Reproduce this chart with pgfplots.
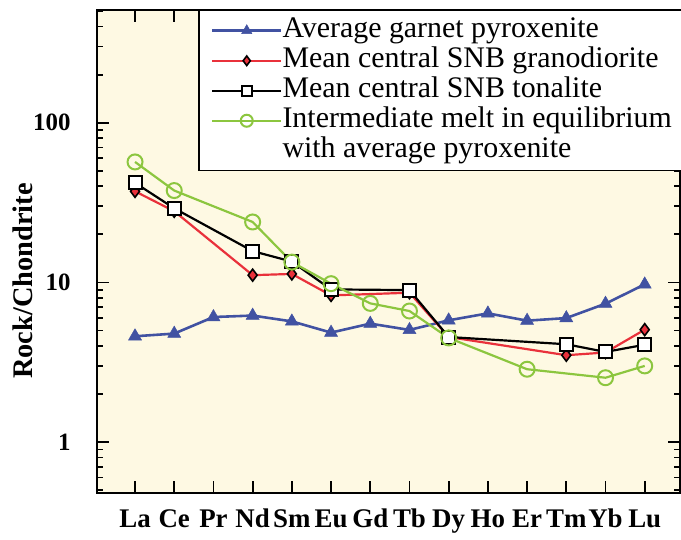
\documentclass[border=0pt]{standalone}
\usepackage{fontspec}
\setmainfont{Liberation Serif}
\usepackage{pgfplots}
\pgfplotsset{compat=1.18}
\usetikzlibrary{calc}
\definecolor{cblue}{HTML}{4152A2}
\definecolor{cred}{HTML}{E9313B}
\definecolor{cgreen}{HTML}{8CC63F}
\definecolor{bg}{HTML}{FEF9E3}
\begin{document}
\begin{tikzpicture}
\begin{axis}[
  scale only axis, width=583bp, height=483bp,
  xmin=0.03, xmax=14.9,
  ymode=log, ymin=0.48, ymax=508,
  axis background/.style={fill=bg},
  axis line style={line width=2.2pt},
  xtick={1,...,14},
  xticklabels={La,Ce,Pr,Nd,Sm,Eu,Gd,Tb,Dy,Ho,Er,Tm,Yb,Lu},
  ytick={1,10,100}, yticklabels={1,10,100},
  minor ytick={0.5,0.6,0.7,0.8,0.9,2,3,4,5,6,7,8,9,20,30,40,50,60,70,80,90,200,300,400,500},
  tick align=inside,
  major tick length=12bp, minor tick length=6bp,
  every tick/.style={line width=1.8pt, black},
  /pgf/number format/assume math mode=true,
  xticklabel style={font=\fontsize{27}{30}\selectfont\bfseries, text height=19bp, yshift=-12bp},
  yticklabel style={font=\fontsize{25}{28}\selectfont\bfseries, xshift=-23bp},
  ylabel={Rock/Chondrite},
  every axis y label/.style={at={(axis description cs:-0.127,0.439)}, rotate=90, anchor=center,
    font=\fontsize{28.5}{30}\selectfont\bfseries},
  legend style={at={(rel axis cs:0.1736,1)}, anchor=north west, draw=black, line width=1.5pt, fill=white,
    font=\fontsize{30}{30}\selectfont, inner xsep=12bp, inner ysep=5bp, row sep=0pt, column sep=0pt,
    nodes={inner sep=0pt, text height=22bp, text depth=8bp}},
  legend cell align=left,
  legend image code/.code={\draw[mark repeat=2,mark phase=2,every mark/.append style={scale=0.8},#1] plot coordinates {(0bp,0bp) (34.5bp,0bp) (69bp,0bp)};},
]
\addplot[cblue, line width=2.6pt, mark=triangle*, mark size=7.5bp, mark options={fill=cblue, draw=cblue, line width=0.5pt}]
  coordinates {(1,4.60) (2,4.78) (3,6.07) (4,6.20) (5,5.70) (6,4.85) (7,5.52) (8,5.04) (9,5.79) (10,6.40) (11,5.76) (12,5.98) (13,7.36) (14,9.72)};
\addlegendentry{Average garnet pyroxenite}
\addplot[cred, line width=2.2pt, mark=diamond*, mark size=6bp, mark options={fill=cred, draw=black, line width=1.6pt}]
  coordinates {(1,37.2) (2,27.9) (4,11.1) (5,11.3) (6,8.29) (8,8.62) (9,4.55) (12,3.50) (13,3.64) (14,5.06)};
\addlegendentry{Mean central SNB granodiorite}
\addplot[black, line width=2.2pt, mark=square*, mark size=6.5bp, mark options={fill=white, draw=black, line width=2pt}]
  coordinates {(1,42.0) (2,29.1) (4,15.7) (5,13.5) (6,9.04) (8,8.95) (9,4.55) (12,4.10) (13,3.67) (14,4.07)};
\addlegendentry{Mean central SNB tonalite}
\addplot[cgreen, line width=2.2pt, mark=o, mark size=7.5bp, mark options={draw=cgreen, line width=2pt}]
  coordinates {(1,56.8) (2,37.6) (4,23.9) (5,13.4) (6,9.82) (7,7.39) (8,6.62) (9,4.49) (11,2.86) (13,2.53) (14,3.00)};
\addlegendentry{Intermediate melt in equilibrium}
\addlegendimage{empty legend}
\addlegendentry{with average pyroxenite}
\end{axis}
\pgfresetboundingbox
\path[use as bounding box] ($(current axis.south west)+(-97bp,-47bp)$) rectangle ($(current axis.north east)+(1bp,10bp)$);
\end{tikzpicture}
\end{document}
